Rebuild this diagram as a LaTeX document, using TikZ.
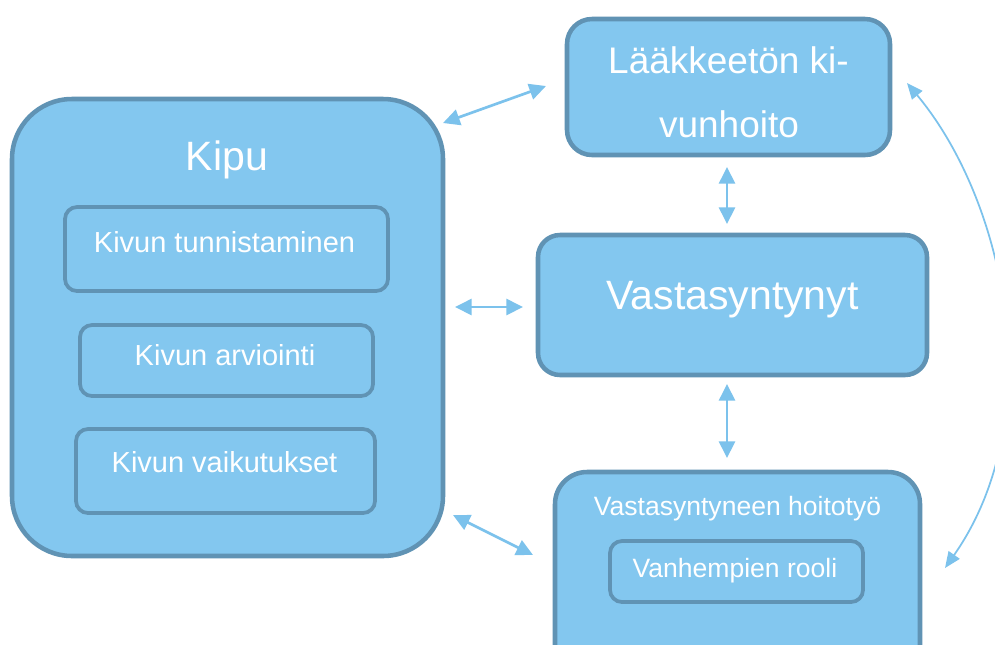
\documentclass[tikz,border=0pt]{standalone}
\usepackage{fontspec}
\setmainfont{Liberation Sans}
\usetikzlibrary{arrows.meta}
\definecolor{boxfill}{HTML}{83C7EF}
\definecolor{boxline}{HTML}{6093B4}
\definecolor{arrowc}{HTML}{7CC2EC}
\tikzset{
  bigbox/.style={draw=boxline, fill=boxfill, line width=3.4pt, outer sep=0pt, inner sep=0pt},
  smallbox/.style={draw=boxline, fill=boxfill, line width=2.8pt, outer sep=0pt, inner sep=0pt, rounded corners=9pt},
  lbl/.style={text=white, anchor=base, inner sep=0pt},
  arr/.style={draw=arrowc, line width=2pt, {Triangle[length=12.5pt,width=12pt]}-{Triangle[length=12.5pt,width=12pt]}},
  thinarr/.style={draw=arrowc, line width=1.3pt, {Triangle[length=12pt,width=10pt]}-{Triangle[length=12pt,width=10pt]}}
}
\begin{document}
\begin{tikzpicture}[x=0.75pt,y=-0.75pt]
\clip (0,0) rectangle (995,644);
\fill[white] (0,0) rectangle (995,644);
% Kipu group
\node[bigbox, rounded corners=45pt, minimum width=323.25pt, minimum height=342.75pt] (kipu) at (227.5,327.5) {};
\node[lbl, font=\fontsize{30.75}{36}\selectfont] (kiputxt) at (227,170) {Kipu};
\node[smallbox, minimum width=242.25pt, minimum height=63pt] (kt) at (226.5,249) {};
\node[lbl, font=\fontsize{21.75}{26}\selectfont] (kttxt) at (224.5,252) {Kivun tunnistaminen};
\node[smallbox, minimum width=219.75pt, minimum height=53.25pt] (ka) at (226.5,360.5) {};
\node[lbl, font=\fontsize{21.75}{26}\selectfont] (katxt) at (225,365) {Kivun arviointi};
\node[smallbox, minimum width=224.25pt, minimum height=63pt] (kv) at (225.5,471) {};
\node[lbl, font=\fontsize{21.75}{26}\selectfont] (kvtxt) at (224.5,472) {Kivun vaikutukset};
% Laakkeeton kivunhoito
\node[bigbox, rounded corners=18.75pt, minimum width=242.25pt, minimum height=102pt] (laak) at (728.5,87) {};
\node[lbl, font=\fontsize{27.75}{33}\selectfont] (laak1) at (728.5,73) {Lääkkeetön ki-};
\node[lbl, font=\fontsize{27.75}{33}\selectfont] (laak2) at (729,137) {vunhoito};
% Vastasyntynyt
\node[bigbox, rounded corners=16.5pt, minimum width=291.75pt, minimum height=105pt] (vast) at (732.5,305) {};
\node[lbl, font=\fontsize{30.75}{36}\selectfont] (vasttxt) at (732.5,309) {Vastasyntynyt};
% Vastasyntyneen hoitotyo
\node[bigbox, rounded corners=24pt, minimum width=273.75pt, minimum height=163.5pt] (hoito) at (737.5,581) {};
\node[lbl, font=\fontsize{19.9}{24}\selectfont] (hoitotxt) at (737.5,515) {Vastasyntyneen hoitotyö};
\node[smallbox, minimum width=189.75pt, minimum height=45.75pt] (vr) at (736.5,571.5) {};
\node[lbl, font=\fontsize{19.9}{24}\selectfont] (vrtxt) at (735,577) {Vanhempien rooli};
% connectors
\draw[arr] ([shift={(0,24)}]kipu.north east) -- ([shift={(-21,-1)}]laak.west);
\draw[arr] ([shift={(12,-20.5)}]kipu.east) -- ([shift={(-15,2)}]vast.west);
\draw[arr] ([shift={(-1.5,12)}]laak.south) -- ([shift={(-5.5,-11)}]vast.north);
\draw[arr] ([shift={(-5.5,9)}]vast.south) -- ([shift={(-10.5,-14)}]hoito.north);
\draw[arr] ([shift={(10,-41)}]kipu.south east) -- ([shift={(-22,-26)}]hoito.west);
\draw[thinarr] ([shift={(17,-4)}]laak.east) .. controls +(100,120) and +(105,-150) .. ([shift={(25,-13)}]hoito.east);
\end{tikzpicture}
\end{document}
